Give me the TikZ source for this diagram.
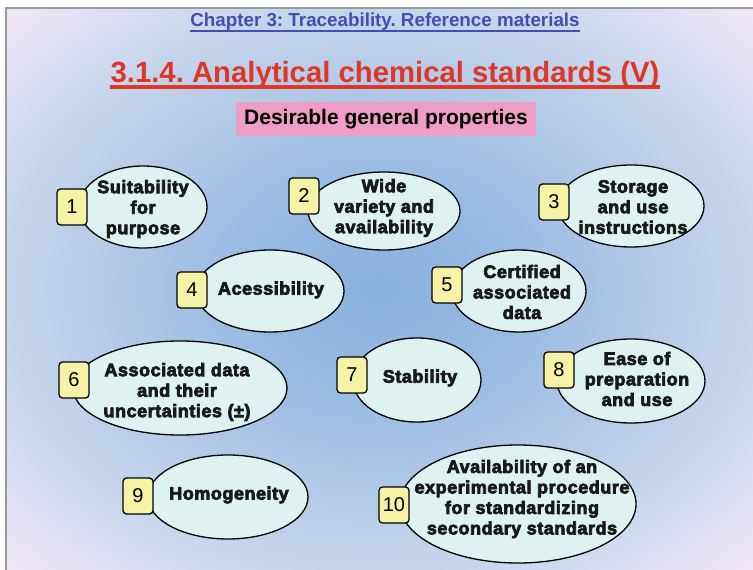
\documentclass[tikz,border=0pt]{standalone}
\usepackage{fontspec}
\setmainfont{Liberation Sans}
\newfontfamily\elfont{Liberation Sans}[BoldFeatures={FakeBold=4,LetterSpace=3}]
\usetikzlibrary{shapes.geometric}
\frenchspacing
\definecolor{ellc}{RGB}{222,243,241}
\definecolor{boxc}{RGB}{247,243,166}
\definecolor{pinkc}{RGB}{238,158,196}
\definecolor{titlered}{RGB}{222,55,40}
\definecolor{hdrblue}{RGB}{64,80,176}
\definecolor{bgca}{RGB}{138,176,221}
\definecolor{bgcb}{RGB}{150,186,226}
\definecolor{bgcc}{RGB}{198,213,236}
\definecolor{bgcd}{RGB}{245,233,247}
\pgfdeclareradialshading{bgshade}{\pgfpoint{0bp}{0bp}}{color(0bp)=(bgca); color(9bp)=(bgcb); color(25bp)=(bgcc); color(36bp)=(bgcd); color(50bp)=(bgcd)}
\tikzset{
  ell/.style={ellipse, draw=black, line width=1.3pt, fill=ellc, inner sep=0pt},
  numbox/.style={draw=black, line width=1.3pt, fill=boxc, rounded corners=3.5pt,
    minimum width=30pt, minimum height=36pt, inner sep=0pt, font=\fontsize{20}{22}\selectfont},
  etxt/.style={align=center, inner sep=0pt, text=black!90, font=\elfont\fontsize{18}{20.5}\selectfont\bfseries},
}
\begin{document}
\frenchspacing
\begin{tikzpicture}[x=1pt,y=-1pt]
\useasboundingbox (0,0) rectangle (753,570);
\fill[white] (0,0) rectangle (753,570);
\shade[shading=bgshade] (6,8) rectangle (753,570);
\draw[black!40, line width=1.2pt] (6,570) -- (6,8) -- (753,8);

% header
\node[anchor=base, inner sep=0pt, text=hdrblue, font=\fontsize{18.8}{22}\selectfont\bfseries] (hdr) at (385,27) {Chapter 3: Traceability. Reference materials};
\draw[hdrblue, line width=2pt] ([yshift=-3.5pt]hdr.base west) -- ([yshift=-3.5pt]hdr.base east);
% title
\node[anchor=base, inner sep=0pt, text=titlered, font=\fontsize{29.3}{34}\selectfont\bfseries] (ttl) at (385,82) {3.1.4. Analytical chemical standards (V)};
\draw[titlered, line width=3.5pt] ([yshift=-5pt]ttl.base west) -- ([yshift=-5pt]ttl.base east);
% subtitle
\node[fill=pinkc, minimum width=300pt, minimum height=34pt, inner sep=0pt, font=\fontsize{21}{24}\selectfont\bfseries] (sub) at (386,119) {Desirable general properties};

% ellipses
\node[ell, minimum width=128pt, minimum height=82pt] (e1) at (143,207) {};
\node[ell, minimum width=152pt, minimum height=78pt] (e2) at (384,211) {};
\node[ell, minimum width=146pt, minimum height=82pt] (e3) at (631,206) {};
\node[ell, minimum width=148pt, minimum height=82pt] (e4) at (270,291) {};
\node[ell, minimum width=134pt, minimum height=82pt] (e5) at (519,291) {};
\node[ell, minimum width=214pt, minimum height=94pt] (e6) at (180,388) {};
\node[ell, minimum width=128pt, minimum height=84pt] (e7) at (417,380) {};
\node[ell, minimum width=148pt, minimum height=84pt] (e8) at (631,381) {};
\node[ell, minimum width=160pt, minimum height=84pt] (e9) at (228,497) {};
\node[ell, minimum width=236pt, minimum height=118pt] (e10) at (518,504) {};

% texts
\node[etxt] (t1) at (143,209) {Suitability\\for\\purpose};
\node[etxt] (t2) at (384,208) {Wide\\variety and\\availability};
\node[etxt] (t3) at (633,207) {Storage\\and use\\instructions};
\node[etxt] (t4) at (271,290) {Acessibility};
\node[etxt] (t5) at (522,292) {Certified\\associated\\data};
\node[etxt] (t6) at (177,392) {Associated data\\and their\\uncertainties (±)};
\node[etxt] (t7) at (420,378) {Stability};
\node[etxt] (t8) at (637,379) {Ease of\\preparation\\and use};
\node[etxt] (t9) at (229,495) {Homogeneity};
\node[etxt] (t10) at (522,499) {Availability of an\\experimental procedure\\for standardizing\\secondary standards};

% number boxes
\node[numbox] (n1) at (72,207) {1};
\node[numbox] (n2) at (304,196) {2};
\node[numbox] (n3) at (554,202) {3};
\node[numbox] (n4) at (192,290) {4};
\node[numbox] (n5) at (447,285) {5};
\node[numbox] (n6) at (74,380) {6};
\node[numbox] (n7) at (352,375) {7};
\node[numbox] (n8) at (559,370) {8};
\node[numbox] (n9) at (138,496) {9};
\node[numbox] (n10) at (394,505) {10};
\end{tikzpicture}
\end{document}
